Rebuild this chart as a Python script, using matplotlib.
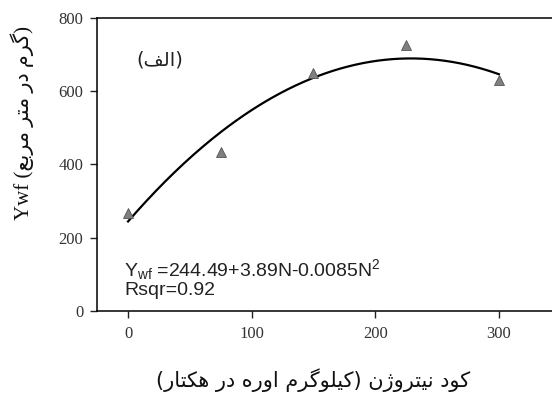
import matplotlib
matplotlib.use("Agg")
import matplotlib.pyplot as plt
import numpy as np

# Observed yield vs. nitrogen rate
nitrogen = [0, 75, 150, 225, 300]
ywf = [268, 435, 650, 726, 631]

# Fitted quadratic coefficients
b0, b1, b2 = 244.49, 3.89, -0.0085
rsqr = 0.92

x_ticks = [0, 100, 200, 300]
y_ticks = [0, 200, 400, 600, 800]

# --- minimal Persian shaping (presentation forms) + visual ordering ---
FORMS = {  # iso, fin, ini, med  (None = right-joining only)
    "\u0627": ("\uFE8D", "\uFE8E", None, None),
    "\u0628": ("\uFE8F", "\uFE90", "\uFE91", "\uFE92"),
    "\u062A": ("\uFE95", "\uFE96", "\uFE97", "\uFE98"),
    "\u062F": ("\uFEA9", "\uFEAA", None, None),
    "\u0631": ("\uFEAD", "\uFEAE", None, None),
    "\u0698": ("\uFB8A", "\uFB8B", None, None),
    "\u0639": ("\uFEC9", "\uFECA", "\uFECB", "\uFECC"),
    "\u0641": ("\uFED1", "\uFED2", "\uFED3", "\uFED4"),
    "\u0644": ("\uFEDD", "\uFEDE", "\uFEDF", "\uFEE0"),
    "\u0645": ("\uFEE1", "\uFEE2", "\uFEE3", "\uFEE4"),
    "\u0646": ("\uFEE5", "\uFEE6", "\uFEE7", "\uFEE8"),
    "\u0647": ("\uFEE9", "\uFEEA", "\uFEEB", "\uFEEC"),
    "\u0648": ("\uFEED", "\uFEEE", None, None),
    "\u06CC": ("\uFBFC", "\uFBFD", "\uFBFE", "\uFBFF"),
    "\u06A9": ("\uFB8E", "\uFB8F", "\uFB90", "\uFB91"),
    "\u06AF": ("\uFB92", "\uFB93", "\uFB94", "\uFB95"),
}


def shape_rtl(text):
    out = []
    n = len(text)
    for i, ch in enumerate(text):
        if ch not in FORMS:
            out.append(ch)
            continue
        prev = text[i - 1] if i > 0 else ""
        nxt = text[i + 1] if i < n - 1 else ""
        joins_prev = prev in FORMS and FORMS[prev][2] is not None
        joins_next = nxt in FORMS and FORMS[ch][2] is not None
        iso, fin, ini, med = FORMS[ch]
        if joins_prev and joins_next:
            out.append(med)
        elif joins_prev:
            out.append(fin)
        elif joins_next:
            out.append(ini)
        else:
            out.append(iso)
    vis = "".join(reversed(out))
    swap = {"(": ")", ")": "("}
    return "".join(swap.get(c, c) for c in vis)


plt.rcParams["mathtext.fontset"] = "custom"
plt.rcParams["mathtext.rm"] = "Liberation Sans"
plt.rcParams["mathtext.it"] = "Liberation Sans"

fig = plt.figure(figsize=(5.52, 3.96), dpi=100)
ax = fig.add_axes([0.176, 0.2146, 0.824, 0.74])

# fitted curve
xf = np.linspace(0, 300, 200)
yf = b0 + b1 * xf + b2 * xf ** 2
ax.plot(xf, yf, color="black", lw=1.6, zorder=2)

ax.plot(nitrogen, ywf, linestyle="none", marker="^", markersize=7,
        markerfacecolor="#808080", markeredgecolor="#555555",
        markeredgewidth=0.6, zorder=3)

ax.set_xlim(-25, 343)
ax.set_ylim(0, 800)
ax.set_xticks(x_ticks)
ax.set_yticks(y_ticks)
ax.spines["right"].set_visible(False)
for s in ("left", "bottom", "top"):
    ax.spines[s].set_linewidth(1.1)
ax.tick_params(direction="out", length=5, width=1, colors="#222222",
               labelcolor="#333333", labelsize=12)
ax.tick_params(axis="x", pad=6)
ax.tick_params(axis="y", pad=5)
for lab in ax.get_xticklabels() + ax.get_yticklabels():
    lab.set_family("Liberation Serif")

ax.text(26, 686, "(" + shape_rtl("الف") + ")", ha="center", va="center",
        fontsize=14, family=["DejaVu Sans"], color="#222222")

ax.text(-3, 112,
        r"Y$_{\mathrm{wf}}$ =%.2f+%.2fN-%.4fN$^{2}$" % (b0, b1, -b2),
        ha="left", va="center", fontsize=14, family="Liberation Sans",
        color="#222222")
ax.text(-3, 55, "Rsqr=%.2f" % rsqr, ha="left", va="center",
        fontsize=14, family="Liberation Sans", color="#222222")

xlabel = shape_rtl("کود نیتروژن (کیلوگرم اوره در هکتار)")
fig.text(0.567, 0.04, xlabel, ha="center", va="center", fontsize=15,
         family=["DejaVu Sans"], color="#111111")

ylabel = "Ywf (" + shape_rtl("گرم در متر مربع") + ")"
fig.text(0.04, 0.69, ylabel, ha="center", va="center", rotation=90,
         fontsize=15, family=["Liberation Serif", "DejaVu Sans"],
         color="#111111")

fig.savefig("out.png", dpi=100)
